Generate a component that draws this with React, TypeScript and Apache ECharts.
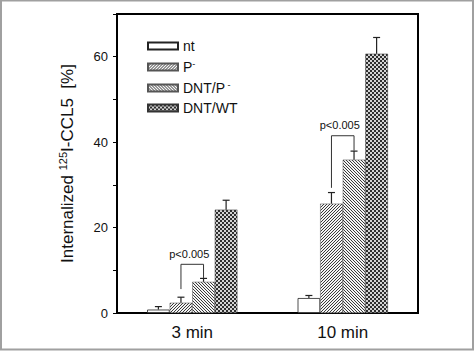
import React, { useEffect, useRef } from "react";
import * as echarts from "echarts";

const categories = ["3 min", "10 min"];
const seriesNames = ["nt", "P-", "DNT/P-", "DNT/WT"];
const ntValues = [0.8, 3.5];
const pMinusValues = [2.4, 25.6];
const dntPMinusValues = [7.3, 35.9];
const dntWtValues = [24.2, 60.7];
const ntErrors = [0.7, 0.6];
const pMinusErrors = [1.3, 2.6];
const dntPMinusErrors = [0.8, 2.0];
const dntWtErrors = [2.2, 3.8];
const yTicks = [0, 20, 40, 60];
const bracketLabel = "p<0.005";
const bracketTop = [11.4, 41.5];
const bracketLeftBottom = [5.6, 29.3];
const bracketRightBottom = [8.2, 38.0];

const FONT = "'Liberation Sans', Arial, sans-serif";

function makeTile(size: number, isDark: (x: number, y: number) => boolean, dark: string, light: string) {
  const c = document.createElement("canvas");
  c.width = size;
  c.height = size;
  const ctx = c.getContext("2d")!;
  for (let y = 0; y < size; y++) {
    for (let x = 0; x < size; x++) {
      ctx.fillStyle = isDark(x, y) ? dark : light;
      ctx.fillRect(x, y, 1, 1);
    }
  }
  return c;
}

export default function App() {
  const ref = useRef<HTMLDivElement>(null);
  useEffect(() => {
    document.body.style.margin = "0";
    const chart = echarts.init(ref.current!, null, { renderer: "svg" });
    const values = [ntValues, pMinusValues, dntPMinusValues, dntWtValues];
    const errors = [ntErrors, pMinusErrors, dntPMinusErrors, dntWtErrors];
    const fwd = makeTile(3, (x, y) => (x + y) % 3 === 2, "#3a3a3a", "#f4f4f4");
    const back = makeTile(3, (x, y) => (x - y + 3) % 3 === 0, "#3a3a3a", "#f4f4f4");
    const grid = makeTile(4, (x, y) => (Math.floor(x / 2) + Math.floor(y / 2)) % 2 === 0, "#2e2e2e", "#d4d4d4");
    const styles: any[] = [
      { color: "#ffffff", borderColor: "#222", borderWidth: 0.8 },
      { color: { image: fwd, repeat: "repeat" }, borderColor: "#555", borderWidth: 0.5 },
      { color: { image: back, repeat: "repeat" }, borderColor: "#555", borderWidth: 0.5 },
      { color: { image: grid, repeat: "repeat" }, borderColor: "#333", borderWidth: 0.5 },
    ];
    const barSeries = seriesNames.map((name, i) => ({
      type: "bar",
      name,
      data: values[i],
      barGap: "0%",
      barCategoryGap: "40%",
      itemStyle: styles[i],
      emphasis: { disabled: true },
    }));
    const errorSeries = seriesNames.map((name, i) => ({
      type: "custom",
      name: name + " err",
      data: categories.map((_, c) => [c, values[i][c], errors[i][c]]),
      z: 5,
      renderItem: (params: any, api: any) => {
        const band = api.size([1, 0])[0];
        const bw = band * 0.15;
        const cat = api.value(0);
        const xc = api.coord([cat, 0])[0] + (i - 1.5) * bw;
        const yBar = api.coord([cat, api.value(1)])[1];
        const yTop = api.coord([cat, api.value(1) + api.value(2)])[1];
        const st = { stroke: "#222", lineWidth: 1.2 };
        return {
          type: "group",
          children: [
            { type: "line", shape: { x1: xc, y1: yBar, x2: xc, y2: yTop }, style: st },
            { type: "line", shape: { x1: xc - 3.5, y1: yTop, x2: xc + 3.5, y2: yTop }, style: st },
          ],
        };
      },
    }));
    const bracketSeries = {
      type: "custom",
      name: "brackets",
      z: 6,
      data: categories.map((_, c) => [c, bracketTop[c], bracketLeftBottom[c], bracketRightBottom[c]]),
      renderItem: (params: any, api: any) => {
        const band = api.size([1, 0])[0];
        const bw = band * 0.15;
        const cat = api.value(0);
        const xCenter = api.coord([cat, 0])[0];
        const xl = xCenter - 0.5 * bw;
        const xr = xCenter + 0.5 * bw;
        const yT = api.coord([cat, api.value(1)])[1];
        const yL = api.coord([cat, api.value(2)])[1];
        const yR = api.coord([cat, api.value(3)])[1];
        return {
          type: "group",
          children: [
            {
              type: "polyline",
              shape: { points: [[xl, yL], [xl, yT], [xr, yT], [xr, yR]] },
              style: { stroke: "#333", lineWidth: 1, fill: "none" },
            },
            {
              type: "text",
              x: (xl + xr) / 2 - 3,
              y: yT - 5,
              style: {
                text: bracketLabel,
                fill: "#111",
                font: `11px ${FONT}`,
                align: "center",
                verticalAlign: "bottom",
              },
            },
          ],
        };
      },
    };
    const legendMap: Record<string, string> = {
      nt: "nt",
      "P-": "P{sup|-}",
      "DNT/P-": "DNT/P{sup| -}",
      "DNT/WT": "DNT/WT",
    };
    chart.setOption({
      animation: false,
      backgroundColor: "#ffffff",
      grid: {
        left: 117,
        right: 56,
        top: 14,
        bottom: 38,
        show: true,
        borderColor: "#000",
        borderWidth: 2,
        backgroundColor: "transparent",
      },
      legend: {
        data: seriesNames,
        orient: "vertical",
        left: 142,
        top: 34,
        icon: "rect",
        itemWidth: 30,
        itemHeight: 7,
        itemGap: 6,
        selectedMode: false,
        formatter: (n: string) => legendMap[n] ?? n,
        textStyle: {
          fontFamily: FONT,
          fontSize: 14,
          color: "#111",
          lineHeight: 14,
          rich: {
            sup: { fontSize: 9, fontFamily: FONT, color: "#111", padding: [0, 0, 7, 0] },
          },
        },
      },
      xAxis: {
        type: "category",
        data: categories,
        axisLine: { lineStyle: { color: "#000", width: 2 } },
        axisTick: { show: false },
        axisLabel: { fontFamily: FONT, fontSize: 17, color: "#111", margin: 11 },
      },
      yAxis: {
        type: "value",
        min: 0,
        max: 70,
        interval: 10,
        splitLine: { show: false },
        axisLine: { show: true, lineStyle: { color: "#000", width: 2 } },
        axisTick: { show: true, inside: false, length: 4, lineStyle: { color: "#000", width: 1 } },
        axisLabel: {
          fontFamily: FONT,
          fontSize: 13,
          color: "#111",
          margin: 9,
          formatter: (v: number) => (yTicks.includes(v) ? String(v) : ""),
        },
        name: "{a|Internalized }{sup|125}{a|I-CCL5  [%]}",
        nameLocation: "middle",
        nameRotate: 90,
        nameGap: 40,
        nameTextStyle: {
          rich: {
            a: { fontFamily: FONT, fontSize: 17, color: "#111" },
            sup: { fontFamily: FONT, fontSize: 11, color: "#111", padding: [0, 0, 9, 0] },
          },
        },
      },
      graphic: [
        {
          type: "rect",
          shape: { x: 1, y: 0.5, width: 472, height: 349 },
          style: { fill: "none", stroke: "#a0a0a0", lineWidth: 2 },
          silent: true,
        },
      ],
      series: [...barSeries, ...errorSeries, bracketSeries],
    });
    return () => chart.dispose();
  }, []);
  return <div ref={ref} style={{ width: 474, height: 351 }} />;
}
